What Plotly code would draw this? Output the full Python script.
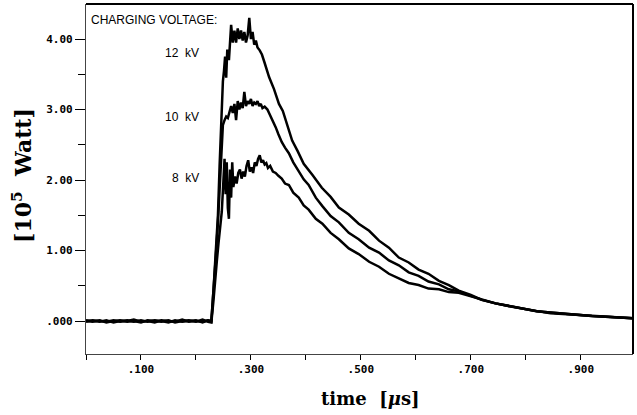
import plotly.graph_objects as go

# ---------------- data ----------------
base_t = [0.000, 0.012, 0.025, 0.037, 0.050, 0.062, 0.075, 0.087, 0.100, 0.112,
          0.125, 0.137, 0.150, 0.162, 0.175, 0.187, 0.200, 0.212, 0.222, 0.228]

t8 = base_t + [0.232, 0.235, 0.238, 0.241, 0.244, 0.247, 0.250, 0.252, 0.254, 0.256,
               0.258, 0.260, 0.262, 0.264, 0.266, 0.268, 0.271, 0.274, 0.277, 0.280,
               0.283, 0.286, 0.289, 0.292, 0.295, 0.298, 0.301, 0.304, 0.307, 0.310,
               0.313, 0.316, 0.319, 0.322, 0.325, 0.328, 0.331, 0.335, 0.340, 0.345,
               0.350, 0.356, 0.362, 0.369, 0.377, 0.387, 0.396, 0.405, 0.418, 0.430,
               0.445, 0.460, 0.478, 0.496, 0.515, 0.533, 0.551, 0.569, 0.587, 0.605,
               0.623, 0.642, 0.660, 0.678, 0.700, 0.720, 0.745, 0.770, 0.795, 0.820,
               0.845, 0.870, 0.896, 0.920, 0.945, 0.970, 0.995]
v8 = [0.00, -0.01, 0.01, -0.02, 0.00, 0.01, -0.01, 0.00, -0.02, 0.01,
      0.00, -0.01, 0.01, -0.02, 0.00, 0.01, -0.01, 0.02, -0.01, -0.02,
      0.30, 0.65, 0.85, 1.10, 1.35, 1.55, 2.00, 2.30, 1.80, 2.25,
      1.60, 1.45, 2.15, 1.75, 2.25, 1.90, 2.05, 1.95, 2.10, 2.15,
      2.02, 2.12, 2.05, 2.20, 2.28, 2.12, 2.18, 2.10, 2.25, 2.20,
      2.30, 2.35, 2.25, 2.28, 2.22, 2.24, 2.17, 2.20, 2.12, 2.10,
      2.06, 2.02, 1.95, 1.93, 1.82, 1.75, 1.64, 1.58, 1.45, 1.38,
      1.25, 1.16, 1.03, 0.95, 0.84, 0.77, 0.67, 0.61, 0.54, 0.51,
      0.46, 0.45, 0.41, 0.40, 0.35, 0.30, 0.25, 0.21, 0.17, 0.14,
      0.11, 0.10, 0.08, 0.07, 0.06, 0.05, 0.04]

t10 = base_t + [0.232, 0.236, 0.240, 0.243, 0.246, 0.249, 0.252, 0.255, 0.258, 0.261,
                0.264, 0.267, 0.270, 0.273, 0.276, 0.279, 0.282, 0.285, 0.288, 0.291,
                0.294, 0.297, 0.300, 0.303, 0.306, 0.309, 0.312, 0.315, 0.318, 0.321,
                0.325, 0.330, 0.335, 0.340, 0.345, 0.350, 0.356, 0.362, 0.369, 0.377,
                0.387, 0.396, 0.405, 0.418, 0.430, 0.445, 0.460, 0.478, 0.496, 0.515,
                0.533, 0.551, 0.569, 0.587, 0.605, 0.623, 0.642, 0.660, 0.678, 0.700,
                0.720, 0.745, 0.770, 0.795, 0.820, 0.845, 0.870, 0.896, 0.920, 0.945,
                0.970, 0.995]
v10 = [0.01, 0.00, -0.01, 0.01, -0.02, 0.00, 0.01, -0.01, 0.01, -0.01,
       0.01, 0.00, -0.02, 0.01, -0.01, 0.00, 0.01, -0.02, 0.01, 0.00,
       0.40, 0.90, 1.40, 1.90, 2.45, 2.78, 2.85, 2.90, 2.88, 2.98,
       3.05, 2.95, 3.08, 2.85, 3.12, 3.00, 3.10, 3.02, 3.25, 3.05,
       3.12, 3.08, 3.15, 3.05, 3.10, 3.08, 3.12, 3.05, 3.08, 3.02,
       3.04, 3.00, 2.92, 2.84, 2.75, 2.65, 2.54, 2.46, 2.38, 2.25,
       2.13, 2.01, 1.93, 1.75, 1.63, 1.49, 1.40, 1.25, 1.16, 1.04,
       0.97, 0.86, 0.79, 0.69, 0.64, 0.56, 0.52, 0.45, 0.42, 0.36,
       0.30, 0.25, 0.21, 0.17, 0.14, 0.12, 0.10, 0.08, 0.07, 0.06,
       0.05, 0.04]

t12 = base_t + [0.232, 0.236, 0.240, 0.243, 0.246, 0.249, 0.251, 0.253, 0.255, 0.257,
                0.260, 0.262, 0.264, 0.267, 0.270, 0.273, 0.276, 0.279, 0.282, 0.285,
                0.288, 0.291, 0.294, 0.297, 0.300, 0.303, 0.306, 0.309, 0.312, 0.316,
                0.320, 0.325, 0.333, 0.342, 0.351, 0.358, 0.364, 0.369, 0.375, 0.385,
                0.396, 0.412, 0.429, 0.445, 0.460, 0.478, 0.496, 0.515, 0.533, 0.551,
                0.569, 0.587, 0.605, 0.623, 0.642, 0.660, 0.678, 0.700, 0.720, 0.745,
                0.770, 0.795, 0.820, 0.845, 0.870, 0.896, 0.920, 0.945, 0.970, 0.995]
v12 = [-0.01, 0.01, 0.00, -0.01, 0.01, -0.01, 0.00, 0.02, -0.01, 0.00,
       -0.02, 0.01, 0.00, -0.01, 0.02, -0.01, 0.00, -0.01, 0.01, -0.01,
       0.45, 0.95, 1.50, 2.20, 2.90, 3.40, 3.55, 3.75, 3.45, 3.85,
       3.70, 4.00, 4.20, 3.95, 4.12, 3.95, 4.15, 4.00, 4.12, 3.98,
       4.10, 3.95, 4.05, 4.30, 4.00, 4.10, 3.92, 3.98, 3.88, 3.84,
       3.78, 3.66, 3.46, 3.29, 3.08, 2.98, 2.84, 2.71, 2.56, 2.41,
       2.23, 2.07, 1.89, 1.76, 1.61, 1.51, 1.38, 1.28, 1.14, 1.04,
       0.90, 0.83, 0.73, 0.67, 0.57, 0.51, 0.43, 0.37, 0.30, 0.25,
       0.21, 0.17, 0.14, 0.12, 0.10, 0.08, 0.07, 0.06, 0.05, 0.04]

series_t = [t8, t10, t12]
series_v = [v8, v10, v12]
series_labels = ["8  kV", "10  kV", "12  kV"]
label_y = [2.03, 2.89, 3.80]

x_tick_vals = [0.1, 0.3, 0.5, 0.7, 0.9]
x_tick_text = [".100", ".300", ".500", ".700", ".900"]
x_minor_vals = [0.0, 0.2, 0.4, 0.6, 0.8]
y_tick_vals = [0, 1, 2, 3, 4]
y_tick_text = [".000", "1.00", "2.00", "3.00", "4.00"]
y_minor_vals = [0.5, 1.5, 2.5, 3.5]

for t, v in zip(series_t, series_v):
    assert len(t) == len(v), (len(t), len(v))

# ---------------- figure ----------------
fig = go.Figure()
for t, v, name in zip(series_t, series_v, series_labels):
    fig.add_trace(go.Scatter(x=t, y=v, mode="lines", name=name,
                             line=dict(color="black", width=2.5),
                             showlegend=False, hoverinfo="skip"))

tickfont = dict(family="DejaVu Sans Mono", size=11, color="black", weight="bold")

fig.update_layout(
    width=637, height=415,
    margin=dict(l=86, r=4, t=4, b=61),
    paper_bgcolor="white", plot_bgcolor="white",
    xaxis=dict(range=[0, 0.995], tickvals=x_tick_vals, ticktext=x_tick_text,
               ticks="outside", ticklen=5, tickwidth=1.3, tickcolor="black",
               minor=dict(tickvals=x_minor_vals, ticks="outside", ticklen=5,
                          tickwidth=1.3, tickcolor="black"),
               showline=True, linecolor="#444", linewidth=1.2,
               showgrid=False, zeroline=False, tickfont=tickfont),
    xaxis2=dict(range=[0, 0.995], overlaying="x", anchor="y", side="bottom",
                tickvals=x_tick_vals + x_minor_vals, ticks="inside", ticklen=4,
                tickwidth=1.3, tickcolor="black", showticklabels=False,
                showgrid=False, zeroline=False, showline=False),
    yaxis=dict(range=[-0.468, 4.497], tickvals=y_tick_vals, ticktext=y_tick_text,
               ticks="outside", ticklen=10, tickwidth=1.3, tickcolor="black",
               minor=dict(tickvals=y_minor_vals, ticks="outside", ticklen=7,
                          tickwidth=1.3, tickcolor="black"),
               showline=True, linecolor="#444", linewidth=1.2,
               showgrid=False, zeroline=False, tickfont=tickfont),
    shapes=[
        dict(type="line", xref="paper", yref="paper", x0=0, x1=1, y0=1, y1=1,
             line=dict(color="black", width=2)),
        dict(type="line", xref="paper", yref="paper", x0=1, x1=1, y0=0, y1=1,
             line=dict(color="black", width=2)),
    ],
)

ann = [
    dict(x=0.006, y=4.27, xref="x", yref="y", text="CHARGING VOLTAGE:",
         showarrow=False, xanchor="left", yanchor="middle",
         font=dict(family="Liberation Sans", size=12, color="black")),
    dict(x=0.52, y=-0.127, xref="paper", yref="paper", text="time  [<i>μ</i>s]",
         showarrow=False, xanchor="center", yanchor="middle",
         font=dict(family="DejaVu Serif", size=18, color="black", weight="bold")),
    dict(x=-0.118, y=0.51, xref="paper", yref="paper",
         text="[10<sup>5</sup>  Watt]", textangle=-90,
         showarrow=False, xanchor="center", yanchor="middle",
         font=dict(family="DejaVu Serif", size=22, color="black", weight="bold")),
]
for name, yv in zip(series_labels, label_y):
    ann.append(dict(x=0.209, y=yv, xref="x", yref="y", text=name,
                    showarrow=False, xanchor="right", yanchor="middle",
                    font=dict(family="Liberation Sans", size=12, color="black")))
fig.update_layout(annotations=ann)

fig.write_html("out.html",
               config={"displayModeBar": False},
               post_script="document.body.style.margin='0';"
                           "document.body.style.overflow='hidden';")
